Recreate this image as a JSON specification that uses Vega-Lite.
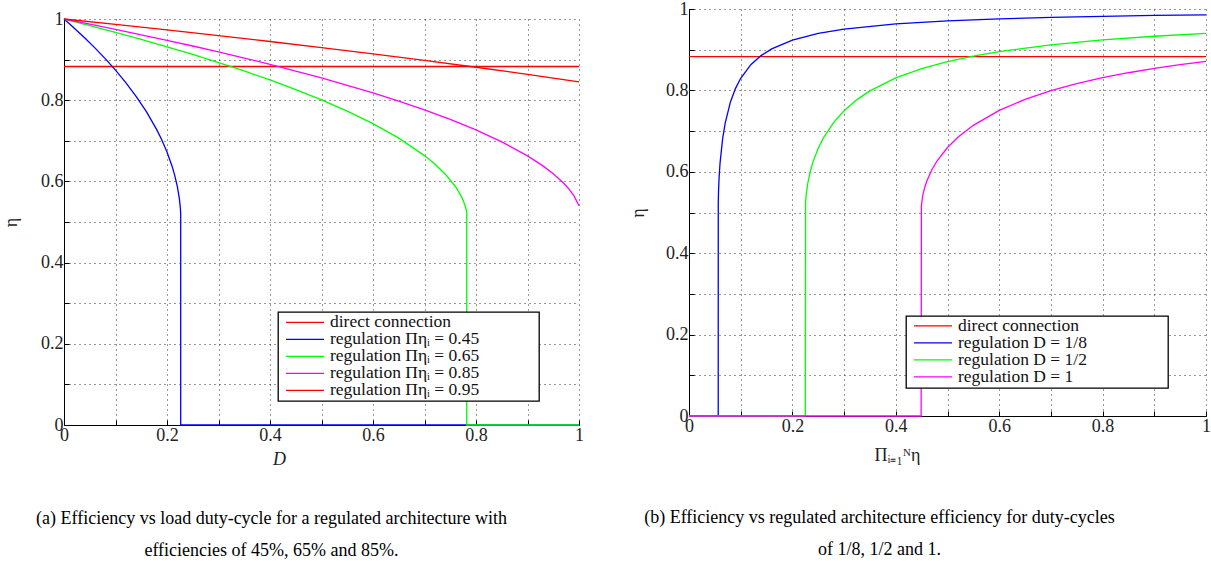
{
  "$schema": "https://vega.github.io/schema/vega-lite/v6.json",
  "background": "white",
  "padding": {"left": 2, "top": 0, "right": 0, "bottom": 0},
  "spacing": 45,
  "resolve": {"scale": {"color": "independent"}, "legend": {"color": "independent"}},
  "config": {
    "view": {"stroke": null},
    "axis": {
      "domainColor": "black", "domainWidth": 1,
      "tickColor": "black", "tickSize": -5, "tickWidth": 1,
      "grid": true, "gridColor": "#000000", "gridDash": [1, 4], "gridOpacity": 0.8, "gridWidth": 1,
      "labelFont": "Liberation Serif", "labelFontSize": 18, "labelColor": "#222222", "labelPadding": 6,
      "labelFlush": false, "labelOverlap": false,
      "titleFont": "Liberation Serif", "titleFontSize": 18, "titleFontWeight": "normal", "titleColor": "#222222"
    },
    "legend": {
      "orient": "none", "title": null, "symbolType": "stroke", "symbolSize": 1444, "symbolStrokeWidth": 1.3,
      "rowPadding": 0, "padding": 2, "symbolOffset": 5, "labelOffset": 5,
      "labelFont": "Liberation Serif", "labelFontSize": 17.5, "labelColor": "#111111", "labelLimit": 400,
      "strokeColor": "black", "strokeWidth": 1.3, "fillColor": "white", "cornerRadius": 0
    },
    "title": {"font": "Liberation Serif", "fontSize": 18, "fontWeight": "normal", "color": "black",
      "subtitleFont": "Liberation Serif", "subtitleFontSize": 18, "subtitleColor": "black", "subtitlePadding": 14}
  },
  "hconcat": [
    {
      "spacing": 0.01,
      "resolve": {"scale": {"color": "independent"}, "legend": {"color": "independent"}},
      "vconcat": [
        {"width": 515, "height": 0.01, "data": {"values": []}, "mark": "point"},
        {
          "width": 515, "height": 406,
          "title": {"text": "(a) Efficiency vs load duty-cycle for a regulated architecture with",
            "subtitle": "efficiencies of 45%, 65% and 85%.", "orient": "bottom", "anchor": "middle", "frame": "group", "dx": -50, "offset": 42},
          "data": {"values": [
            {"D": 0, "eta": 0.883, "s": "direct connection"},
            {"D": 1, "eta": 0.883, "s": "direct connection"},
            {"D": 0, "eta": 1, "s": "regulation Πηᵢ = 0.45"},
            {"D": 0.01, "eta": 0.9889, "s": "regulation Πηᵢ = 0.45"},
            {"D": 0.02, "eta": 0.9775, "s": "regulation Πηᵢ = 0.45"},
            {"D": 0.04, "eta": 0.9538, "s": "regulation Πηᵢ = 0.45"},
            {"D": 0.06, "eta": 0.9289, "s": "regulation Πηᵢ = 0.45"},
            {"D": 0.08, "eta": 0.9024, "s": "regulation Πηᵢ = 0.45"},
            {"D": 0.10, "eta": 0.8740, "s": "regulation Πηᵢ = 0.45"},
            {"D": 0.12, "eta": 0.8433, "s": "regulation Πηᵢ = 0.45"},
            {"D": 0.14, "eta": 0.8096, "s": "regulation Πηᵢ = 0.45"},
            {"D": 0.16, "eta": 0.7717, "s": "regulation Πηᵢ = 0.45"},
            {"D": 0.18, "eta": 0.7275, "s": "regulation Πηᵢ = 0.45"},
            {"D": 0.19, "eta": 0.7019, "s": "regulation Πηᵢ = 0.45"},
            {"D": 0.20, "eta": 0.6724, "s": "regulation Πηᵢ = 0.45"},
            {"D": 0.21, "eta": 0.6369, "s": "regulation Πηᵢ = 0.45"},
            {"D": 0.215, "eta": 0.6150, "s": "regulation Πηᵢ = 0.45"},
            {"D": 0.22, "eta": 0.5878, "s": "regulation Πηᵢ = 0.45"},
            {"D": 0.224, "eta": 0.5575, "s": "regulation Πηᵢ = 0.45"},
            {"D": 0.226, "eta": 0.5332, "s": "regulation Πηᵢ = 0.45"},
            {"D": 0.2266, "eta": 0.52, "s": "regulation Πηᵢ = 0.45"},
            {"D": 0.2266, "eta": 0, "s": "regulation Πηᵢ = 0.45"},
            {"D": 1, "eta": 0, "s": "regulation Πηᵢ = 0.45"},
            {"D": 0, "eta": 1, "s": "regulation Πηᵢ = 0.65"},
            {"D": 0.05, "eta": 0.9838, "s": "regulation Πηᵢ = 0.65"},
            {"D": 0.1, "eta": 0.9670, "s": "regulation Πηᵢ = 0.65"},
            {"D": 0.15, "eta": 0.9496, "s": "regulation Πηᵢ = 0.65"},
            {"D": 0.2, "eta": 0.9315, "s": "regulation Πηᵢ = 0.65"},
            {"D": 0.25, "eta": 0.9127, "s": "regulation Πηᵢ = 0.65"},
            {"D": 0.3, "eta": 0.8928, "s": "regulation Πηᵢ = 0.65"},
            {"D": 0.35, "eta": 0.8720, "s": "regulation Πηᵢ = 0.65"},
            {"D": 0.4, "eta": 0.8499, "s": "regulation Πηᵢ = 0.65"},
            {"D": 0.45, "eta": 0.8263, "s": "regulation Πηᵢ = 0.65"},
            {"D": 0.5, "eta": 0.8009, "s": "regulation Πηᵢ = 0.65"},
            {"D": 0.55, "eta": 0.7732, "s": "regulation Πηᵢ = 0.65"},
            {"D": 0.6, "eta": 0.7422, "s": "regulation Πηᵢ = 0.65"},
            {"D": 0.65, "eta": 0.7067, "s": "regulation Πηᵢ = 0.65"},
            {"D": 0.7, "eta": 0.6636, "s": "regulation Πηᵢ = 0.65"},
            {"D": 0.72, "eta": 0.6428, "s": "regulation Πηᵢ = 0.65"},
            {"D": 0.74, "eta": 0.6184, "s": "regulation Πηᵢ = 0.65"},
            {"D": 0.76, "eta": 0.5875, "s": "regulation Πηᵢ = 0.65"},
            {"D": 0.77, "eta": 0.5668, "s": "regulation Πηᵢ = 0.65"},
            {"D": 0.775, "eta": 0.5536, "s": "regulation Πηᵢ = 0.65"},
            {"D": 0.78, "eta": 0.5357, "s": "regulation Πηᵢ = 0.65"},
            {"D": 0.782, "eta": 0.5253, "s": "regulation Πηᵢ = 0.65"},
            {"D": 0.782, "eta": 0, "s": "regulation Πηᵢ = 0.65"},
            {"D": 1, "eta": 0, "s": "regulation Πηᵢ = 0.65"},
            {"D": 0, "eta": 1, "s": "regulation Πηᵢ = 0.85"},
            {"D": 0.05, "eta": 0.9874, "s": "regulation Πηᵢ = 0.85"},
            {"D": 0.1, "eta": 0.9745, "s": "regulation Πηᵢ = 0.85"},
            {"D": 0.15, "eta": 0.9612, "s": "regulation Πηᵢ = 0.85"},
            {"D": 0.2, "eta": 0.9476, "s": "regulation Πηᵢ = 0.85"},
            {"D": 0.25, "eta": 0.9335, "s": "regulation Πηᵢ = 0.85"},
            {"D": 0.3, "eta": 0.9190, "s": "regulation Πηᵢ = 0.85"},
            {"D": 0.35, "eta": 0.9039, "s": "regulation Πηᵢ = 0.85"},
            {"D": 0.4, "eta": 0.8882, "s": "regulation Πηᵢ = 0.85"},
            {"D": 0.45, "eta": 0.8719, "s": "regulation Πηᵢ = 0.85"},
            {"D": 0.5, "eta": 0.8548, "s": "regulation Πηᵢ = 0.85"},
            {"D": 0.55, "eta": 0.8368, "s": "regulation Πηᵢ = 0.85"},
            {"D": 0.6, "eta": 0.8179, "s": "regulation Πηᵢ = 0.85"},
            {"D": 0.65, "eta": 0.7977, "s": "regulation Πηᵢ = 0.85"},
            {"D": 0.7, "eta": 0.7761, "s": "regulation Πηᵢ = 0.85"},
            {"D": 0.75, "eta": 0.7526, "s": "regulation Πηᵢ = 0.85"},
            {"D": 0.8, "eta": 0.7267, "s": "regulation Πηᵢ = 0.85"},
            {"D": 0.85, "eta": 0.6974, "s": "regulation Πηᵢ = 0.85"},
            {"D": 0.9, "eta": 0.6630, "s": "regulation Πηᵢ = 0.85"},
            {"D": 0.93, "eta": 0.6383, "s": "regulation Πηᵢ = 0.85"},
            {"D": 0.95, "eta": 0.6190, "s": "regulation Πηᵢ = 0.85"},
            {"D": 0.97, "eta": 0.5959, "s": "regulation Πηᵢ = 0.85"},
            {"D": 0.98, "eta": 0.5820, "s": "regulation Πηᵢ = 0.85"},
            {"D": 0.99, "eta": 0.5650, "s": "regulation Πηᵢ = 0.85"},
            {"D": 1, "eta": 0.5400, "s": "regulation Πηᵢ = 0.85"},
            {"D": 0, "eta": 1, "s": "regulation Πηᵢ = 0.95"},
            {"D": 0.1, "eta": 0.9867, "s": "regulation Πηᵢ = 0.95"},
            {"D": 0.2, "eta": 0.9731, "s": "regulation Πηᵢ = 0.95"},
            {"D": 0.3, "eta": 0.9590, "s": "regulation Πηᵢ = 0.95"},
            {"D": 0.4, "eta": 0.9446, "s": "regulation Πηᵢ = 0.95"},
            {"D": 0.5, "eta": 0.9296, "s": "regulation Πηᵢ = 0.95"},
            {"D": 0.6, "eta": 0.9141, "s": "regulation Πηᵢ = 0.95"},
            {"D": 0.7, "eta": 0.8980, "s": "regulation Πηᵢ = 0.95"},
            {"D": 0.8, "eta": 0.8812, "s": "regulation Πηᵢ = 0.95"},
            {"D": 0.9, "eta": 0.8636, "s": "regulation Πηᵢ = 0.95"},
            {"D": 1, "eta": 0.8451, "s": "regulation Πηᵢ = 0.95"}
          ]},
          "mark": {"type": "line", "strokeWidth": 1.3},
          "encoding": {
            "x": {"field": "D", "type": "quantitative", "scale": {"domain": [0, 1], "nice": false},
              "axis": {"values": [0, 0.1, 0.2, 0.3, 0.4, 0.5, 0.6, 0.7, 0.8, 0.9, 1],
                "labelExpr": "round(datum.value*10)%2==0 ? format(datum.value,'~g') : ''",
                "title": "D", "titleFontStyle": "italic", "titleX": 215, "titlePadding": 6}},
            "y": {"field": "eta", "type": "quantitative", "scale": {"domain": [0, 1], "nice": false},
              "axis": {"values": [0, 0.1, 0.2, 0.3, 0.4, 0.5, 0.6, 0.7, 0.8, 0.9, 1],
                "labelExpr": "round(datum.value*10)%2==0 ? format(datum.value,'~g') : ''",
                "title": "η", "titlePadding": 20}},
            "color": {"field": "s", "type": "nominal",
              "scale": {"domain": ["direct connection", "regulation Πηᵢ = 0.45", "regulation Πηᵢ = 0.65", "regulation Πηᵢ = 0.85", "regulation Πηᵢ = 0.95"],
                "range": ["#ff0000", "#0000ff", "#00ff00", "#ff00ff", "#ff0000"]},
              "legend": {"legendX": 214, "legendY": 293, "clipHeight": 16.7, "rowPadding": -2, "padding": 2,
                "labelExpr": "datum.label + '\u00a0\u00a0\u00a0\u00a0\u00a0\u00a0\u00a0\u00a0\u00a0\u00a0\u00a0\u00a0\u00a0\u200b'"}},
            "order": {"value": null}
          }
        }
      ]
    },
    {
      "width": 517, "height": 407,
      "title": {"text": "(b) Efficiency vs regulated architecture efficiency for duty-cycles",
        "subtitle": "of 1/8, 1/2 and 1.", "orient": "bottom", "anchor": "middle", "frame": "group", "dx": -68, "offset": 45},
      "data": {"values": [
        {"P": 0, "eta": 0.883, "s": "direct connection"},
        {"P": 1, "eta": 0.883, "s": "direct connection"},
        {"P": 0, "eta": 0, "s": "regulation D = 1/8"},
        {"P": 0.0565, "eta": 0, "s": "regulation D = 1/8"},
        {"P": 0.0566, "eta": 0.521, "s": "regulation D = 1/8"},
        {"P": 0.057, "eta": 0.5468, "s": "regulation D = 1/8"},
        {"P": 0.058, "eta": 0.5805, "s": "regulation D = 1/8"},
        {"P": 0.06, "eta": 0.6208, "s": "regulation D = 1/8"},
        {"P": 0.065, "eta": 0.6808, "s": "regulation D = 1/8"},
        {"P": 0.07, "eta": 0.7196, "s": "regulation D = 1/8"},
        {"P": 0.08, "eta": 0.7710, "s": "regulation D = 1/8"},
        {"P": 0.09, "eta": 0.8050, "s": "regulation D = 1/8"},
        {"P": 0.1, "eta": 0.8298, "s": "regulation D = 1/8"},
        {"P": 0.12, "eta": 0.8637, "s": "regulation D = 1/8"},
        {"P": 0.14, "eta": 0.8861, "s": "regulation D = 1/8"},
        {"P": 0.16, "eta": 0.9021, "s": "regulation D = 1/8"},
        {"P": 0.2, "eta": 0.9235, "s": "regulation D = 1/8"},
        {"P": 0.25, "eta": 0.9399, "s": "regulation D = 1/8"},
        {"P": 0.3, "eta": 0.9505, "s": "regulation D = 1/8"},
        {"P": 0.4, "eta": 0.9633, "s": "regulation D = 1/8"},
        {"P": 0.5, "eta": 0.9709, "s": "regulation D = 1/8"},
        {"P": 0.6, "eta": 0.9759, "s": "regulation D = 1/8"},
        {"P": 0.7, "eta": 0.9794, "s": "regulation D = 1/8"},
        {"P": 0.8, "eta": 0.9820, "s": "regulation D = 1/8"},
        {"P": 0.9, "eta": 0.9841, "s": "regulation D = 1/8"},
        {"P": 1, "eta": 0.9857, "s": "regulation D = 1/8"},
        {"P": 0, "eta": 0, "s": "regulation D = 1/2"},
        {"P": 0.225, "eta": 0, "s": "regulation D = 1/2"},
        {"P": 0.2255, "eta": 0.5236, "s": "regulation D = 1/2"},
        {"P": 0.227, "eta": 0.5469, "s": "regulation D = 1/2"},
        {"P": 0.23, "eta": 0.5737, "s": "regulation D = 1/2"},
        {"P": 0.235, "eta": 0.6032, "s": "regulation D = 1/2"},
        {"P": 0.24, "eta": 0.625, "s": "regulation D = 1/2"},
        {"P": 0.25, "eta": 0.6581, "s": "regulation D = 1/2"},
        {"P": 0.26, "eta": 0.6834, "s": "regulation D = 1/2"},
        {"P": 0.28, "eta": 0.7216, "s": "regulation D = 1/2"},
        {"P": 0.3, "eta": 0.75, "s": "regulation D = 1/2"},
        {"P": 0.325, "eta": 0.7774, "s": "regulation D = 1/2"},
        {"P": 0.35, "eta": 0.7988, "s": "regulation D = 1/2"},
        {"P": 0.4, "eta": 0.8307, "s": "regulation D = 1/2"},
        {"P": 0.45, "eta": 0.8536, "s": "regulation D = 1/2"},
        {"P": 0.5, "eta": 0.8708, "s": "regulation D = 1/2"},
        {"P": 0.55, "eta": 0.8844, "s": "regulation D = 1/2"},
        {"P": 0.6, "eta": 0.8953, "s": "regulation D = 1/2"},
        {"P": 0.7, "eta": 0.9119, "s": "regulation D = 1/2"},
        {"P": 0.8, "eta": 0.9239, "s": "regulation D = 1/2"},
        {"P": 0.9, "eta": 0.9330, "s": "regulation D = 1/2"},
        {"P": 1, "eta": 0.9402, "s": "regulation D = 1/2"},
        {"P": 0, "eta": 0, "s": "regulation D = 1"},
        {"P": 0.449, "eta": 0, "s": "regulation D = 1"},
        {"P": 0.4495, "eta": 0.517, "s": "regulation D = 1"},
        {"P": 0.452, "eta": 0.5407, "s": "regulation D = 1"},
        {"P": 0.455, "eta": 0.5574, "s": "regulation D = 1"},
        {"P": 0.46, "eta": 0.5773, "s": "regulation D = 1"},
        {"P": 0.47, "eta": 0.6057, "s": "regulation D = 1"},
        {"P": 0.48, "eta": 0.6271, "s": "regulation D = 1"},
        {"P": 0.5, "eta": 0.6597, "s": "regulation D = 1"},
        {"P": 0.52, "eta": 0.6847, "s": "regulation D = 1"},
        {"P": 0.55, "eta": 0.7142, "s": "regulation D = 1"},
        {"P": 0.6, "eta": 0.7508, "s": "regulation D = 1"},
        {"P": 0.65, "eta": 0.7780, "s": "regulation D = 1"},
        {"P": 0.7, "eta": 0.7994, "s": "regulation D = 1"},
        {"P": 0.75, "eta": 0.8167, "s": "regulation D = 1"},
        {"P": 0.8, "eta": 0.8312, "s": "regulation D = 1"},
        {"P": 0.85, "eta": 0.8434, "s": "regulation D = 1"},
        {"P": 0.9, "eta": 0.8539, "s": "regulation D = 1"},
        {"P": 0.95, "eta": 0.8631, "s": "regulation D = 1"},
        {"P": 1, "eta": 0.8711, "s": "regulation D = 1"}
      ]},
      "mark": {"type": "line", "strokeWidth": 1.3},
      "encoding": {
        "x": {"field": "P", "type": "quantitative", "scale": {"domain": [0, 1], "nice": false},
          "axis": {"values": [0, 0.1, 0.2, 0.3, 0.4, 0.5, 0.6, 0.7, 0.8, 0.9, 1],
            "labelExpr": "round(datum.value*10)%2==0 ? format(datum.value,'~g') : ''",
            "title": "Πᵢ₌₁ᴺη", "titleX": 208, "titlePadding": 11}},
        "y": {"field": "eta", "type": "quantitative", "scale": {"domain": [0, 1], "nice": false},
          "axis": {"values": [0, 0.1, 0.2, 0.3, 0.4, 0.5, 0.6, 0.7, 0.8, 0.9, 1],
            "labelExpr": "round(datum.value*10)%2==0 ? format(datum.value,'~g') : ''",
            "title": "η", "titlePadding": 18}},
        "color": {"field": "s", "type": "nominal",
          "scale": {"domain": ["direct connection", "regulation D = 1/8", "regulation D = 1/2", "regulation D = 1"],
            "range": ["#ff0000", "#0000ff", "#00ff00", "#ff00ff"]},
          "legend": {"legendX": 217, "legendY": 307, "clipHeight": 15.6, "rowPadding": -3, "padding": 2,
            "labelExpr": "datum.label + '\u00a0\u00a0\u00a0\u00a0\u00a0\u00a0\u00a0\u00a0\u00a0\u00a0\u00a0\u00a0\u00a0\u00a0\u00a0\u00a0\u00a0\u00a0\u200b'"}},
        "order": {"value": null}
      }
    }
  ]
}
